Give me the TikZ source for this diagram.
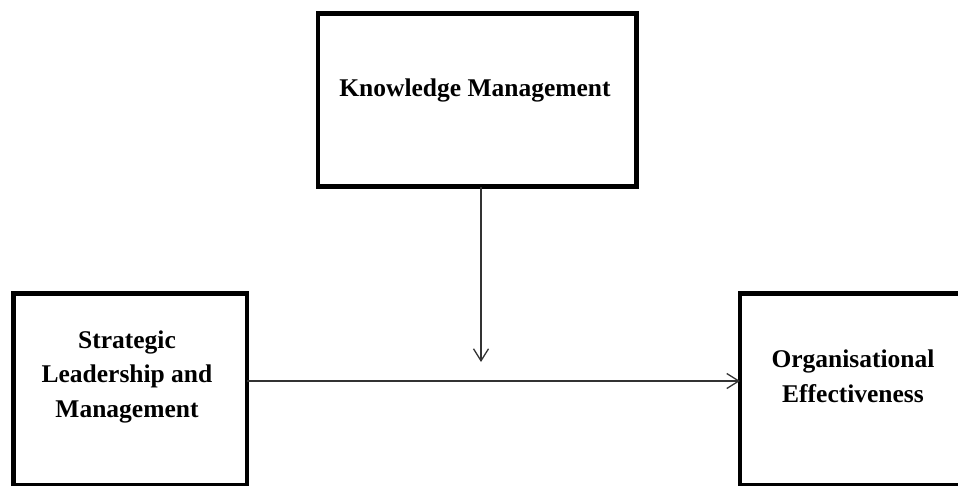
\documentclass[tikz,border=0pt]{standalone}
\usepackage{fontspec}
\setmainfont{Liberation Serif}
\usetikzlibrary{arrows.meta}
\begin{document}
\begin{tikzpicture}[x=1pt,y=-1pt,
  box/.style={draw=black, line width=4.5pt, fill=none, inner sep=0pt, outer sep=0pt},
  lbl/.style={font=\fontsize{25.5}{34.5}\selectfont\bfseries, align=center, inner sep=0pt, text=black},
  arr/.style={draw=black!80, line width=1.3pt, -{Straight Barb[length=12pt,width=15pt,line width=1.3pt]}}]
\useasboundingbox (0,0) rectangle (958,485);
\node[box, minimum width=318.7pt, minimum height=173pt] (km) at (477.3,100.2) {};
\node[box, minimum width=233.3pt, minimum height=191.6pt] (slm) at (130.35,389.5) {};
\node[box, minimum width=235pt, minimum height=191.6pt] (oe) at (857.5,389.5) {};
\node[lbl] (kmt) at (475,90) {Knowledge Management};
\node[lbl] (slmt) at (127,376.5) {Strategic\\Leadership and\\Management};
\node[lbl] (oet) at (853,376.5) {Organisational\\Effectiveness};
\coordinate (kmfoot) at (481,186.8);
\coordinate (meet) at (481,362);
\coordinate (midline) at (481,381);
\draw[arr] (kmfoot) -- (meet);
\draw[arr] (slm.east |- midline) -- (oe.west |- midline);
\end{tikzpicture}
\end{document}
